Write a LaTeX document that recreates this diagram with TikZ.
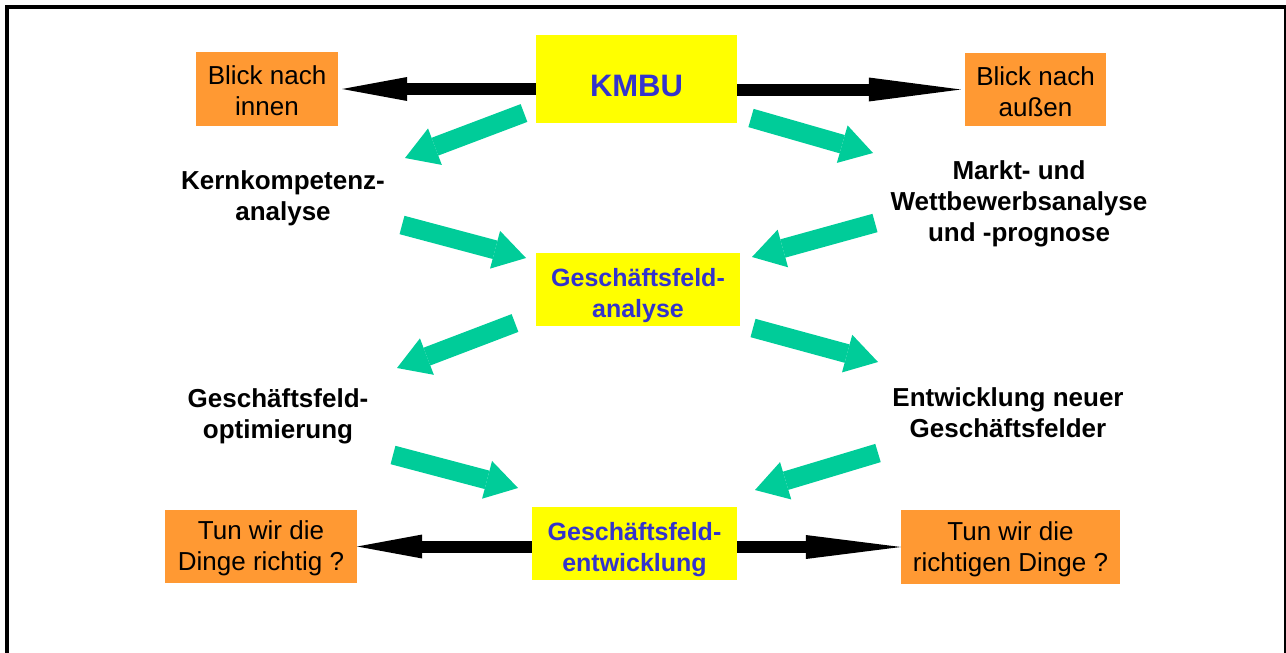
\documentclass[tikz,border=0pt]{standalone}
\usepackage{fontspec}
\setmainfont{Liberation Sans}
\usetikzlibrary{arrows.meta}
\definecolor{boxorange}{HTML}{FF9933}
\definecolor{boxyellow}{HTML}{FFFF00}
\definecolor{titleblue}{HTML}{3333CC}
\definecolor{flowgreen}{HTML}{00CC99}

\begin{document}
\begin{tikzpicture}[x=1pt,y=-1pt,
  orangebox/.style={fill=boxorange, inner sep=0pt, align=center,
    font=\fontsize{26}{31}\selectfont, text height=54pt},
  yellowbox/.style={fill=boxyellow, inner sep=0pt, align=center, text=titleblue,
    font=\bfseries\fontsize{25}{31}\selectfont, text height=61.5pt},
  boldtext/.style={inner sep=0pt, align=center,
    font=\bfseries\fontsize{26}{31}\selectfont},
  bigarrow/.style={line width=12pt, -{Triangle[length=65pt,width=24pt,line width=0pt]}},
  flowarrow/.style={draw=flowgreen, line width=19pt,
    -{Triangle[length=32pt,width=39pt,line width=0pt]}}
]
\useasboundingbox (0,0) rectangle (1286,653);
\clip (0,0) rectangle (1286,653);

% outer frame
\draw[line width=4pt] (7,7) rectangle (1286,700);

% boxes
\node[yellowbox, minimum width=201pt, minimum height=88pt,
  font=\bfseries\fontsize{31}{36}\selectfont, text height=34pt, text depth=0pt]
  (kmbu) at (636.5,79) {KMBU};
\node[orangebox, minimum width=142pt, minimum height=74pt] (innen) at (267,89) {Blick nach\\innen};
\node[orangebox, minimum width=141pt, minimum height=73pt] (aussen) at (1035.5,89.5) {Blick nach\\außen};
\node[yellowbox, minimum width=204pt, minimum height=73pt] (gfa) at (638,289) {Geschäftsfeld-\\analyse};
\node[yellowbox, minimum width=205pt, minimum height=73pt] (gfe) at (634.5,543.5) {Geschäftsfeld-\\entwicklung};
\node[orangebox, minimum width=192pt, minimum height=73pt] (tun1) at (261,546.5) {Tun wir die\\Dinge richtig ?};
\node[orangebox, minimum width=219pt, minimum height=74pt] (tun2) at (1010.5,547) {Tun wir die\\richtigen Dinge ?};

% free texts
\node[boldtext] (kern) at (283,198) {Kernkompetenz-\\analyse};
\node[boldtext] (markt) at (1019,204) {Markt- und\\Wettbewerbsanalyse\\und -prognose};
\node[boldtext] (opt) at (278,416) {Geschäftsfeld-\\optimierung};
\node[boldtext] (neu) at (1008,413) {Entwicklung neuer\\Geschäftsfelder};

% black arrows
\draw[bigarrow] (kmbu.west |- innen.east) -- ([xshift=4pt]innen.east);
\draw[bigarrow, -{Triangle[length=92pt,width=24pt,line width=0pt]}] (kmbu.east |- aussen.west) -- ([xshift=-4pt]aussen.west);
\draw[bigarrow] (gfe.west |- tun1.east) -- (tun1.east);
\draw[bigarrow, -{Triangle[length=95pt,width=24pt,line width=0pt]}] (gfe.east |- tun2.west) -- (tun2.west);

% green flow arrows
\coordinate (g1a) at (524,113); \coordinate (g1b) at (405,158);
\coordinate (g2a) at (751,118); \coordinate (g2b) at (873,153);
\coordinate (g3a) at (402,225); \coordinate (g3b) at (526,258);
\coordinate (g4a) at (875,223); \coordinate (g4b) at (752,257);
\coordinate (g5a) at (515,323); \coordinate (g5b) at (397,368);
\coordinate (g6a) at (753,328); \coordinate (g6b) at (878,362);
\coordinate (g7a) at (393,455); \coordinate (g7b) at (518,488);
\coordinate (g8a) at (878,453); \coordinate (g8b) at (755,490);
\foreach \i in {1,...,8} \draw[flowarrow] (g\i a) -- (g\i b);
\end{tikzpicture}
\end{document}
